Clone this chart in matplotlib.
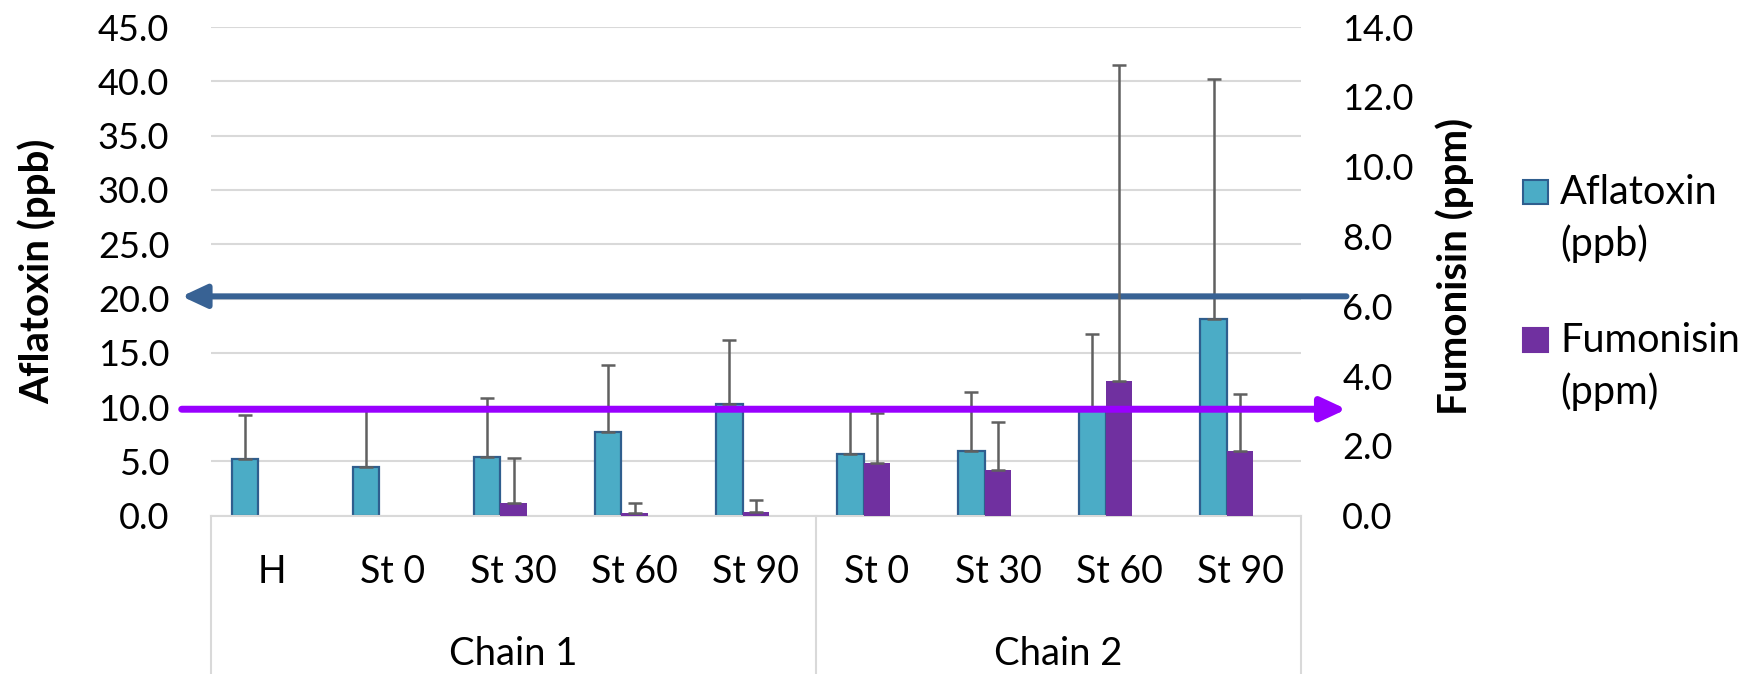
import matplotlib.pyplot as plt
from matplotlib.patches import Rectangle
from matplotlib.lines import Line2D
import matplotlib.transforms as mtransforms
import numpy as np

# sampling points along the two chains
categories = ["H", "St 0", "St 30", "St 60", "St 90", "St 0", "St 30", "St 60", "St 90"]
chains = ["Chain 1", "Chain 2"]
chain_sizes = [5, 4]

# mean levels and (upper) standard deviation
aflatoxin = [5.2, 4.5, 5.4, 7.7, 10.3, 5.7, 6.0, 9.8, 18.1]
aflatoxin_err = [4.1, 5.3, 5.4, 6.2, 5.9, 4.1, 5.4, 6.9, 22.1]
fumonisin = [0.0, 0.0, 0.37, 0.09, 0.11, 1.50, 1.30, 3.87, 1.85]
fumonisin_err = [0.0, 0.0, 1.28, 0.27, 0.35, 1.43, 1.39, 9.04, 1.65]

# regulatory limits
aflatoxin_limit = 20.2
fumonisin_limit = 3.05

BLUE = "#4BACC6"
BLUE_EDGE = "#2F5E8E"
PURPLE = "#7030A0"
ERR = "#606060"
GRID = "#D9D9D9"

plt.rcParams["font.family"] = ["Lato", "DejaVu Sans"]
FS = 26

fig = plt.figure(figsize=(17.39, 6.74), dpi=100)
W, H = 1739, 674
ax = fig.add_axes([211 / W, 1 - 515.7 / H, 1089.7 / W, 488.7 / H])
ax2 = ax.twinx()

x = np.arange(len(categories))
bw = 0.22

ax.bar(x - bw, aflatoxin, width=bw, color=BLUE, edgecolor=BLUE_EDGE, linewidth=1.6, zorder=2)
ax.errorbar(x - bw, aflatoxin, yerr=[np.zeros(len(x)), aflatoxin_err], fmt="none",
            ecolor=ERR, elinewidth=1.8, capsize=5, capthick=1.8, zorder=3)

fum = np.array(fumonisin)
fum_err = np.array(fumonisin_err)
ax2.bar(x, fum, width=bw, color=PURPLE, linewidth=0, zorder=2)
keep = fum_err > 0
ax2.errorbar(x[keep], fum[keep], yerr=[np.zeros(keep.sum()), fum_err[keep]], fmt="none",
             ecolor=ERR, elinewidth=1.8, capsize=5, capthick=1.8, zorder=3)

ax.set_xlim(-0.5, len(categories) - 0.5)
ax.set_ylim(0, 45)
ax2.set_ylim(0, 14)
ax.set_yticks(np.arange(0, 46, 5))
ax2.set_yticks(np.arange(0, 15, 2))
ax.set_yticklabels([f"{v:.1f}" for v in np.arange(0, 46, 5)])
ax2.set_yticklabels([f"{v:.1f}" for v in np.arange(0, 15, 2)])
ax.tick_params(axis="y", length=0, labelsize=FS, pad=30)
ax2.tick_params(axis="y", length=0, labelsize=FS, pad=30)
for t in ax2.get_yticklabels():
    t.set_horizontalalignment("left")
ax.set_xticks([])

ax.grid(axis="y", color=GRID, linewidth=1.5, zorder=0)
ax.set_axisbelow(True)
for a in (ax, ax2):
    for s in a.spines.values():
        s.set_visible(False)
ax.spines["bottom"].set_visible(True)
ax.spines["bottom"].set_color(GRID)
ax.spines["bottom"].set_linewidth(1.5)

# two-level category axis
trans = mtransforms.blended_transform_factory(ax.transData, ax.transAxes)
for i, lab in enumerate(categories):
    ax.text(i, -0.115, lab, transform=trans, ha="center", va="center", fontsize=27)
start = 0
bounds = [-0.5]
for name, n in zip(chains, chain_sizes):
    ax.text(start + (n - 1) / 2, -0.282, name, transform=trans, ha="center", va="center", fontsize=27.5)
    start += n
    bounds.append(start - 0.5)
for b in bounds:
    ax.add_line(Line2D([b, b], [0, -0.35], transform=trans, color=GRID, linewidth=1.5, clip_on=False))

# limit arrows
xl, xr = -0.742, 8.878
ax.annotate("", xy=(xl, aflatoxin_limit), xytext=(xr, aflatoxin_limit), annotation_clip=False,
            arrowprops=dict(arrowstyle="-|>,head_length=1.5,head_width=0.7", color="#386294",
                            lw=4.3, mutation_scale=10, shrinkA=0, shrinkB=0), zorder=5)
ax2.annotate("", xy=(xr, fumonisin_limit), xytext=(xl, fumonisin_limit), annotation_clip=False,
             arrowprops=dict(arrowstyle="-|>,head_length=1.5,head_width=0.7", color="#9900FF",
                             lw=5.0, mutation_scale=10, shrinkA=0, shrinkB=0), zorder=5)

# axis titles
fig.text(37 / W, 1 - 271 / H, "Aflatoxin (ppb)", rotation=90, ha="center", va="center",
         fontsize=29, fontweight="bold")
fig.text(1455 / W, 1 - 266 / H, "Fumonisin (ppm)", rotation=90, ha="center", va="center",
         fontsize=29, fontweight="bold")

# legend
for col, edge, y0, lines in [(BLUE, BLUE_EDGE, 192, ("Aflatoxin", "(ppb)")),
                             (PURPLE, PURPLE, 340, ("Fumonisin", "(ppm)"))]:
    fig.patches.append(Rectangle((1523 / W, 1 - (y0 + 12) / H), 25 / W, 24 / H,
                                 transform=fig.transFigure, facecolor=col, edgecolor=edge,
                                 linewidth=1.5))
    fig.text(1560 / W, 1 - y0 / H, lines[0], ha="left", va="center", fontsize=28.5)
    fig.text(1560 / W, 1 - (y0 + 52) / H, lines[1], ha="left", va="center", fontsize=28.5)

fig.savefig("out.png", dpi=100)
